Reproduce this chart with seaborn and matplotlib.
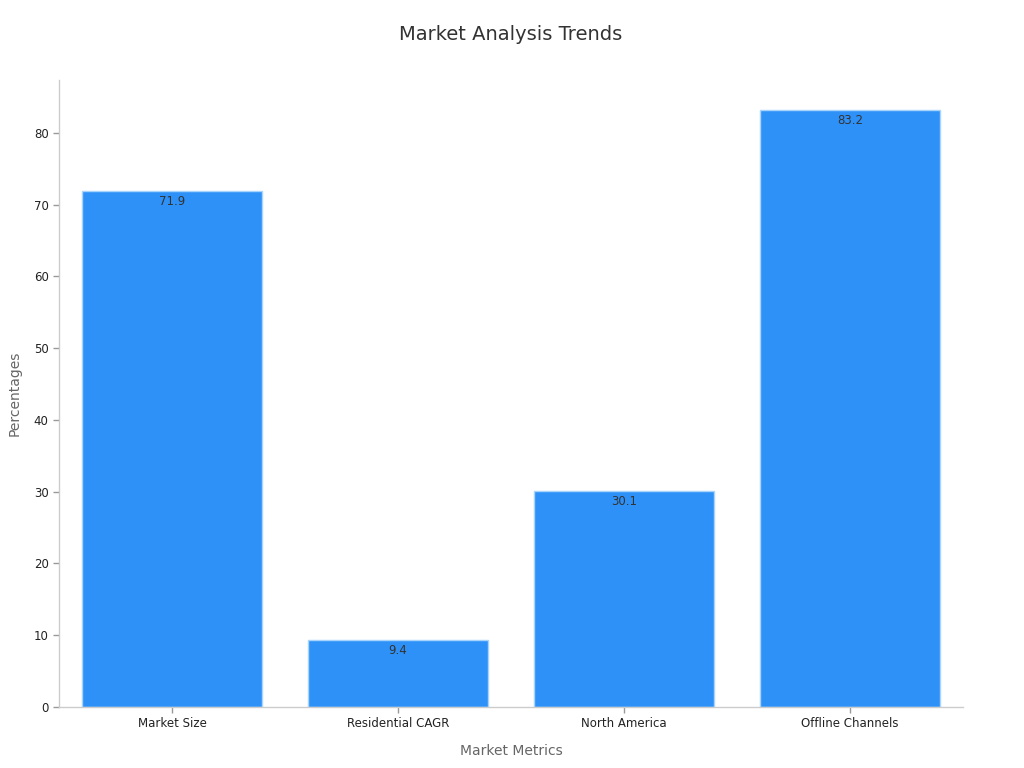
import matplotlib

matplotlib.use("Agg")
import matplotlib.pyplot as plt
import pandas as pd
import seaborn as sns

categories = ["Market Size", "Residential CAGR", "North America", "Offline Channels"]
values = [71.9, 9.4, 30.1, 83.2]

sns.set_theme(style="white")
plt.rcParams["font.family"] = ["DejaVu Sans"]

df = pd.DataFrame({"metric": categories, "pct": values})

fig = plt.figure(figsize=(10.24, 7.68), dpi=100)
ax = fig.add_axes([0.0576, 0.0794, 0.8828, 0.8164])
sns.barplot(data=df, x="metric", y="pct", color="#2e91f8", saturation=1,
            width=0.8, edgecolor="#a8d4fb", linewidth=1, ax=ax)

# value labels just inside the top of each bar
for i, v in enumerate(values):
    ax.text(i, v - 0.6, f"{v}", ha="center", va="top", fontsize=8.5, color="#333333")

ax.set_ylim(0, max(values) * 1.05)
ax.set_xlim(-0.5, 3.5)
ax.set_title("Market Analysis Trends", fontsize=14, color="#333333", pad=29)
ax.set_xlabel("Market Metrics", fontsize=10, color="#666666", labelpad=10)
ax.set_ylabel("Percentages", fontsize=10, color="#666666", labelpad=9)
ax.tick_params(axis="both", labelsize=8.5, colors="#222222", length=4,
               width=1, direction="out", bottom=True, left=True)
ax.tick_params(color="#999999")
sns.despine(ax=ax)
for side in ("left", "bottom"):
    ax.spines[side].set_color("#cccccc")
    ax.spines[side].set_linewidth(1)

fig.savefig("out.png", dpi=100)
